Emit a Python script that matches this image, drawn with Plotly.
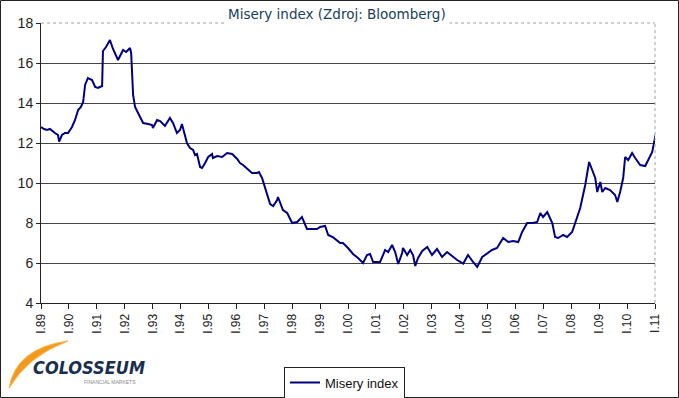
import plotly.graph_objects as go

# Decimal years (1989.0 = I.89) and Misery index values
years = [
    1989.00, 1989.11, 1989.22, 1989.32, 1989.50, 1989.61, 1989.65, 1989.75, 1989.86, 1989.97,
    1990.11, 1990.22, 1990.33, 1990.43, 1990.51, 1990.58, 1990.68, 1990.83, 1990.94, 1991.04,
    1991.19, 1991.22, 1991.33, 1991.47, 1991.58, 1991.76, 1991.94, 1992.05, 1992.19, 1992.23,
    1992.30, 1992.37, 1992.55, 1992.66, 1992.84, 1992.98, 1993.01, 1993.16, 1993.27, 1993.44,
    1993.62, 1993.73, 1993.87, 1993.98, 1994.05, 1994.09, 1994.23, 1994.34, 1994.45, 1994.52,
    1994.59, 1994.70, 1994.77, 1994.88, 1994.99, 1995.13, 1995.16, 1995.31, 1995.49, 1995.67,
    1995.85, 1996.03, 1996.13, 1996.24, 1996.42, 1996.56, 1996.74, 1996.81, 1996.92, 1997.03,
    1997.14, 1997.21, 1997.32, 1997.46, 1997.49, 1997.67, 1997.82, 1998.00, 1998.18, 1998.35,
    1998.53, 1998.89, 1999.00, 1999.18, 1999.29, 1999.47, 1999.72, 1999.82, 2000.00, 2000.18,
    2000.36, 2000.54, 2000.68, 2000.79, 2000.90, 2001.15, 2001.33, 2001.44, 2001.58, 2001.69,
    2001.80, 2001.94, 2001.97, 2002.12, 2002.23, 2002.33, 2002.41, 2002.51, 2002.66, 2002.84,
    2003.01, 2003.19, 2003.37, 2003.55, 2003.73, 2003.91, 2004.13, 2004.30, 2004.48, 2004.63,
    2004.81, 2004.99, 2005.16, 2005.34, 2005.56, 2005.74, 2005.92, 2006.10, 2006.24, 2006.42,
    2006.63, 2006.78, 2006.89, 2006.99, 2007.14, 2007.32, 2007.42, 2007.53, 2007.71, 2007.85,
    2008.03, 2008.14, 2008.32, 2008.50, 2008.64, 2008.75, 2008.86, 2008.93, 2009.04, 2009.11,
    2009.22, 2009.39, 2009.57, 2009.65, 2009.75, 2009.86, 2009.93, 2010.04, 2010.18, 2010.29,
    2010.47, 2010.65, 2010.76, 2010.90, 2011.02,
]
misery = [
    12.80, 12.70, 12.65, 12.70, 12.50, 12.40, 12.07, 12.40, 12.50, 12.50,
    12.80, 13.15, 13.65, 13.80, 14.05, 14.90, 15.25, 15.15, 14.80, 14.75,
    14.85, 16.60, 16.80, 17.15, 16.70, 16.15, 16.65, 16.55, 16.75, 16.50,
    14.40, 13.80, 13.30, 13.00, 12.95, 12.90, 12.75, 13.15, 13.10, 12.85,
    13.25, 13.00, 12.50, 12.65, 12.95, 12.75, 12.00, 11.75, 11.65, 11.40,
    11.45, 10.80, 10.75, 11.00, 11.30, 11.45, 11.25, 11.35, 11.30, 11.50,
    11.45, 11.20, 11.00, 10.90, 10.65, 10.50, 10.50, 10.55, 10.25, 9.80,
    9.25, 8.95, 8.85, 9.15, 9.30, 8.65, 8.50, 8.00, 8.05, 8.30,
    7.70, 7.70, 7.80, 7.85, 7.40, 7.28, 7.00, 7.00, 6.75, 6.45,
    6.25, 6.00, 6.40, 6.45, 6.05, 6.05, 6.65, 6.55, 6.90, 6.55,
    5.95, 6.50, 6.75, 6.40, 6.65, 6.40, 5.85, 6.25, 6.60, 6.80,
    6.40, 6.70, 6.30, 6.55, 6.35, 6.15, 5.97, 6.40, 6.05, 5.80,
    6.30, 6.50, 6.65, 6.75, 7.25, 7.05, 7.10, 7.05, 7.55, 8.00,
    8.00, 8.05, 8.50, 8.30, 8.55, 8.00, 7.30, 7.25, 7.40, 7.30,
    7.55, 8.00, 8.75, 9.90, 11.05, 10.65, 10.25, 9.55, 10.05, 9.55,
    9.75, 9.65, 9.40, 9.05, 9.55, 10.25, 11.30, 11.15, 11.50, 11.25,
    10.90, 10.85, 11.15, 11.55, 12.40,
]

tick_years = list(range(1989, 2012))
tick_labels = ["I.%02d" % (y % 100) for y in tick_years]
y_ticks = [4, 6, 8, 10, 12, 14, 16, 18]

W, H = 679, 398
L, R, T, B = 41, 24, 23, 95
pw, ph = W - L - R, H - T - B

fig = go.Figure()
fig.add_trace(go.Scatter(
    x=years, y=misery, mode="lines", name="Misery index",
    line=dict(color="#000080", width=2),
))

def px(xp):
    return (xp - L) / pw

def py(yp):
    return (H - B - yp) / ph

shapes = [
    # outer frame
    dict(type="rect", xref="paper", yref="paper",
         x0=px(0.5), x1=px(W - 0.5), y0=py(H - 0.5), y1=py(0.5),
         line=dict(color="#222222", width=1), layer="above"),
    # plot area top & right border (gray)
    dict(type="line", xref="paper", yref="paper", x0=0, x1=1, y0=1, y1=1,
         line=dict(color="#a0a0a0", width=1, dash="dot")),
    dict(type="line", xref="paper", yref="paper", x0=1, x1=1, y0=0, y1=1,
         line=dict(color="#a0a0a0", width=1, dash="dot")),
    # logo swoosh (crescent)
    dict(type="path", xref="paper", yref="paper",
         path="M %f,%f Q %f,%f %f,%f Q %f,%f %f,%f Z" % (
             px(9), py(388), px(16), py(348), px(68), py(341),
             px(28), py(356), px(9), py(388)),
         fillcolor="#f39a1e", line=dict(color="#f7b34a", width=1)),
]

annotations = [
    dict(text="Misery index (Zdroj: Bloomberg)", xref="paper", yref="paper",
         x=px(337), y=py(14), xanchor="center", yanchor="middle", showarrow=False,
         font=dict(family="DejaVu Sans", size=13.5, color="#173e5e"),
         bgcolor="white", borderpad=3),
    dict(text="<b><i>COLOSSEUM</i></b>", xref="paper", yref="paper",
         x=px(31), y=py(367), xanchor="left", yanchor="middle", showarrow=False,
         font=dict(family="DejaVu Sans Condensed", size=18, color="#1a2f50")),
    dict(text="FINANCIAL MARKETS", xref="paper", yref="paper",
         x=px(82), y=py(382), xanchor="left", yanchor="middle", showarrow=False,
         font=dict(family="Liberation Sans", size=5, color="#888888")),
]

fig.update_layout(
    width=W, height=H,
    margin=dict(l=L, r=R, t=T, b=B, autoexpand=False),
    paper_bgcolor="white", plot_bgcolor="white",
    font=dict(family="Liberation Sans, Arial", size=12, color="#222222"),
    showlegend=True,
    legend=dict(x=px(284), y=py(366.5), xanchor="left", yanchor="top",
                bordercolor="#222222", borderwidth=1, bgcolor="white",
                font=dict(size=13, color="#111111"),
                itemwidth=30, tracegroupgap=0),
    shapes=shapes,
    annotations=annotations,
)
fig.update_xaxes(
    range=[1989, 2011], tickmode="array", tickvals=tick_years, ticktext=tick_labels,
    tickangle=-90, showgrid=False, zeroline=False,
    showline=True, linecolor="#222222", linewidth=1,
    ticks="outside", ticklen=5, tickcolor="#222222",
    tickfont=dict(size=12, color="#222222"),
)
fig.update_yaxes(
    range=[4, 18], tickvals=y_ticks, showgrid=True, gridcolor="#444444", gridwidth=1,
    zeroline=False, showline=True, linecolor="#222222", linewidth=1,
    ticks="outside", ticklen=4, tickcolor="#222222",
    tickfont=dict(size=14, color="#222222"),
)

fig.write_html(
    "out.html",
    config={"displayModeBar": False},
    post_script="document.body.style.margin='0';document.body.style.padding='0';"
                "document.body.style.overflow='hidden';",
)
